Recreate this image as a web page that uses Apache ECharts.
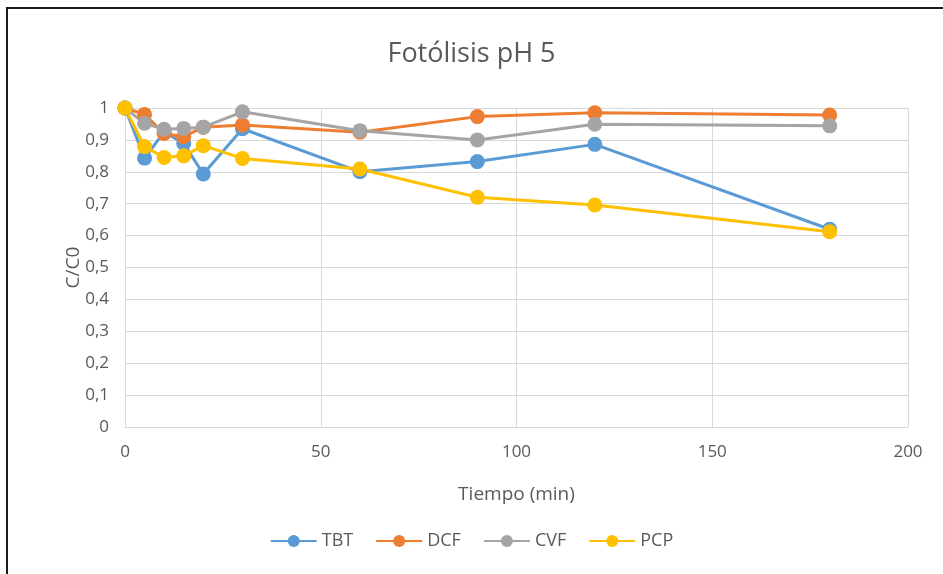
<!DOCTYPE html>
<html>
<head>
    <meta charset="utf-8">
    <title>Fotólisis pH 5</title>
    <style>
        html, body { margin: 0; padding: 0; background: #fff; }
        #charts { width: 943px; height: 574px; }
    </style>
    <script src="https://cdn.jsdelivr.net/npm/echarts@6/dist/echarts.min.js"></script>
</head>
<body>
<div id="charts"></div>
<script type="text/javascript">
var tiempo = [0, 5, 10, 15, 20, 30, 60, 90, 120, 180];
var tbt = [1, 0.843, 0.925, 0.889, 0.793, 0.935, 0.80, 0.832, 0.886, 0.62];
var dcf = [1, 0.98, 0.92, 0.91, 0.94, 0.947, 0.924, 0.973, 0.985, 0.978];
var cvf = [1, 0.952, 0.933, 0.936, 0.94, 0.988, 0.929, 0.90, 0.949, 0.944];
var pcp = [1, 0.879, 0.845, 0.85, 0.882, 0.842, 0.809, 0.72, 0.696, 0.612];

function pares(vals) {
    var out = [];
    for (var i = 0; i < tiempo.length; i++) {
        out.push([tiempo[i], vals[i]]);
    }
    return out;
}

var fuente = '"Open Sans", "Liberation Sans", sans-serif';
var gris = '#595959';

var myChart = echarts.init(document.getElementById('charts'));

function serie(nombre, vals) {
    return {
        name: nombre,
        type: 'line',
        data: pares(vals),
        symbol: 'circle',
        symbolSize: 15,
        lineStyle: { width: 3 },
        emphasis: { disabled: true }
    };
}

var option = {
    animation: false,
    color: ['#5B9BD5', '#ED7D31', '#A5A5A5', '#FFC000'],
    title: {
        text: 'Fotólisis pH 5',
        left: 'center',
        top: 36,
        textStyle: { fontFamily: fuente, fontSize: 27, fontWeight: 'normal', color: gris }
    },
    legend: {
        bottom: 19,
        left: 'center',
        itemWidth: 46,
        itemHeight: 15,
        itemGap: 22,
        textStyle: { fontFamily: fuente, fontSize: 18, color: gris },
        data: ['TBT', 'DCF', 'CVF', 'PCP']
    },
    grid: {
        left: 125,
        right: 35,
        top: 108,
        bottom: 147
    },
    xAxis: {
        type: 'value',
        min: 0,
        max: 200,
        interval: 50,
        name: 'Tiempo (min)',
        nameLocation: 'middle',
        nameGap: 58,
        nameTextStyle: { fontFamily: fuente, fontSize: 19, color: gris },
        axisLine: { show: true, lineStyle: { color: '#D9D9D9' } },
        axisTick: { show: false },
        axisLabel: { fontFamily: fuente, fontSize: 17, color: gris, margin: 17 },
        splitLine: { show: true, lineStyle: { color: '#D9D9D9' } }
    },
    yAxis: {
        type: 'value',
        min: 0,
        max: 1,
        interval: 0.1,
        name: 'C/C0',
        nameLocation: 'middle',
        nameGap: 42,
        nameMoveOverlap: false,
        nameTextStyle: { fontFamily: fuente, fontSize: 19, color: gris },
        axisLine: { show: true, lineStyle: { color: '#D9D9D9' } },
        axisTick: { show: false },
        axisLabel: {
            fontFamily: fuente, fontSize: 17, color: gris, margin: 16,
            formatter: function (v) { return String(Math.round(v * 10) / 10).replace('.', ','); }
        },
        splitLine: { show: true, lineStyle: { color: '#D9D9D9' } }
    },
    graphic: [{
        type: 'rect',
        shape: { x: 7, y: 8, width: 1200, height: 1200 },
        style: { fill: 'none', stroke: '#1a1a1a', lineWidth: 2 },
        silent: true
    }],
    series: [
        serie('TBT', tbt),
        serie('DCF', dcf),
        serie('CVF', cvf),
        serie('PCP', pcp)
    ]
};

myChart.setOption(option);
</script>
</body>
</html>
